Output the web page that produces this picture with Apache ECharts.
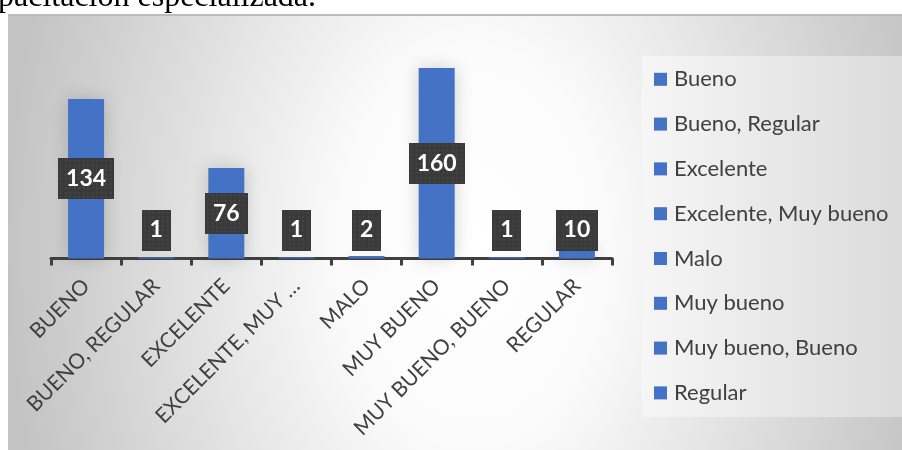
<!DOCTYPE html>
<html>
<head>
<meta charset="utf-8">
<script src="https://cdn.jsdelivr.net/npm/echarts@6/dist/echarts.min.js"></script>
<style>
  html, body { margin: 0; padding: 0; background: #ffffff; }
  #wrap { position: relative; width: 902px; height: 450px; overflow: hidden; }
  #panel {
    position: absolute; left: 8px; top: 14px; width: 894px; height: 436px;
    box-sizing: border-box; border-top: 2px solid #bcbcbc;
    background: radial-gradient(ellipse 470px 700px at 465px 230px, #ffffff 0%, #fbfbfb 28%, #c3c3c3 100%);
  }
  #chart { position: absolute; left: 0; top: 0; width: 902px; height: 450px; }
</style>
</head>
<body>
<div id="wrap"><div id="panel"></div><div id="chart"></div></div>
<script>
// Ratings given to the specialised training, one bar per answer
const categories = ['Bueno', 'Bueno, Regular', 'Excelente', 'Excelente, Muy bueno', 'Malo', 'Muy bueno', 'Muy bueno, Bueno', 'Regular'];
const tickLabels = ['BUENO', 'BUENO, REGULAR', 'EXCELENTE', 'EXCELENTE, MUY …', 'MALO', 'MUY BUENO', 'MUY BUENO, BUENO', 'REGULAR'];
const counts = [134, 1, 76, 1, 2, 160, 1, 10];
const yMax = 180;

const BLUE = '#4472C4';
const TEXT = '#404040';
const labelFont = 'bold 23px Lato';

// dark dotted tile behind each value label
function dottedBox(text) {
  const c = document.createElement('canvas');
  let ctx = c.getContext('2d');
  ctx.font = labelFont;
  const w = Math.round(ctx.measureText(text).width + 16);
  const h = 41;
  c.width = w; c.height = h;
  ctx = c.getContext('2d');
  ctx.fillStyle = '#3a3a3a';
  ctx.fillRect(0, 0, w, h);
  ctx.fillStyle = '#4e4e4e';
  for (let y = 2; y < h - 1; y += 4.5) {
    for (let x = 2; x < w - 1; x += 4.5) {
      ctx.fillRect(Math.round(x), Math.round(y), 1.5, 1.5);
    }
  }
  return c;
}

// short bars cannot hold the tile, so it sits just above the axis instead
function valueLabel(v) {
  return {
    show: true,
    position: v < 48 ? 'insideBottom' : 'inside',
    distance: 8,
    color: '#ffffff',
    fontFamily: 'Lato',
    fontWeight: 'bold',
    fontSize: 23,
    lineHeight: 23,
    padding: [9, 8],
    backgroundColor: { image: dottedBox(String(v)) },
    shadowBlur: 6,
    shadowOffsetX: 3,
    shadowOffsetY: 3,
    shadowColor: 'rgba(0,0,0,0.45)'
  };
}

const series = categories.map((name, i) => ({
  name: name,
  type: 'bar',
  stack: 'total',
  barWidth: 36,
  itemStyle: { color: BLUE, shadowBlur: 18, shadowColor: 'rgba(0,0,0,0.18)' },
  data: counts.map((v, j) => (j === i ? { value: v, label: valueLabel(v) } : '-'))
}));

const chart = echarts.init(document.getElementById('chart'), null, { renderer: 'canvas' });
chart.setOption({
  animation: false,
  backgroundColor: 'transparent',
  graphic: [{
    type: 'text',
    x: -2,
    y: -2,
    style: {
      text: 'pacitación especializada.',
      font: '32px "Liberation Serif"',
      fill: '#000000',
      verticalAlign: 'middle'
    }
  }],
  grid: { left: 51, right: 290, top: 44.1, bottom: 191.5 },
  legend: {
    orient: 'vertical',
    left: 642,
    top: 56,
    padding: [12.3, 40, 13, 12],
    itemWidth: 13,
    itemHeight: 13,
    itemGap: 22.8,
    icon: 'rect',
    selectedMode: false,
    backgroundColor: new echarts.graphic.LinearGradient(0, 0, 1, 0, [
      { offset: 0, color: '#f6f6f6' },
      { offset: 1, color: '#d8d8d8' }
    ]),
    textStyle: { fontFamily: 'Lato', fontSize: 22, lineHeight: 22, color: TEXT, padding: [0, 0, 0, 2] },
    data: categories
  },
  xAxis: {
    type: 'category',
    data: categories,
    axisLine: { show: true, lineStyle: { color: TEXT, width: 3 } },
    axisTick: { show: true, length: 7, lineStyle: { color: TEXT, width: 3 } },
    axisLabel: {
      interval: 0,
      rotate: 45,
      margin: 24,
      color: TEXT,
      fontFamily: 'Lato',
      fontSize: 21,
      formatter: (v, i) => tickLabels[i]
    }
  },
  yAxis: { type: 'value', min: 0, max: yMax, show: false },
  series: series
});
</script>
</body>
</html>
